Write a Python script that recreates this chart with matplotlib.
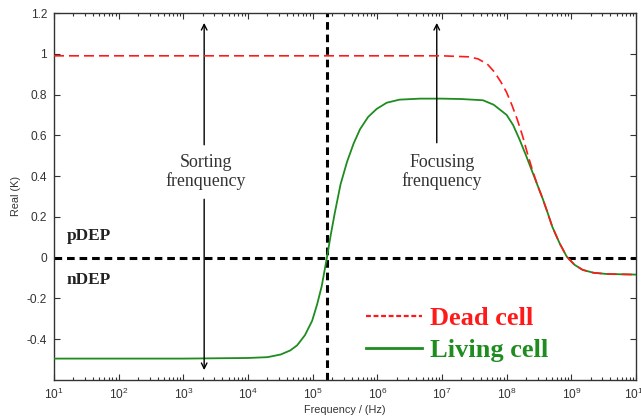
import matplotlib
matplotlib.use('Agg')
import matplotlib.pyplot as plt
import matplotlib.ticker as ticker
from matplotlib.lines import Line2D

# -----------------------------------------------------------------------
# data (frequency in Hz, Real(K))
# -----------------------------------------------------------------------
living_freq = [1e1, 1e3, 1e4, 2e4, 3.2e4, 4.5e4, 5.75e4, 7.6e4, 9.8e4, 1.17e5,
               1.38e5, 1.66e5, 1.9e5, 2.2e5, 2.7e5, 3.4e5, 4.3e5, 5.4e5, 7.2e5,
               9.8e5, 1.4e6, 2.2e6, 4.6e6, 1e7, 2e7, 4.3e7, 6.3e7, 1e8, 1.26e8,
               1.58e8, 2e8, 2.5e8, 3e8, 3.6e8, 4.3e8, 5.1e8, 6.6e8, 8.5e8, 1.12e9,
               1.5e9, 2.2e9, 3.5e9, 1e10]
living_k = [-0.495, -0.495, -0.492, -0.488, -0.475, -0.455, -0.43, -0.38, -0.31, -0.23,
            -0.14, 0.0, 0.11, 0.22, 0.36, 0.47, 0.56, 0.63, 0.69,
            0.73, 0.76, 0.775, 0.78, 0.78, 0.778, 0.772, 0.75, 0.70, 0.65,
            0.58, 0.50, 0.42, 0.355, 0.29, 0.22, 0.15, 0.07, 0.005, -0.035,
            -0.06, -0.074, -0.08, -0.083]

dead_freq = [1e1, 1e7, 2.6e7, 3.6e7, 5e7, 6.5e7, 8.2e7, 1e8, 1.2e8, 1.45e8,
             1.75e8, 2.1e8, 2.5e8, 3e8, 3.6e8, 4.3e8, 5.1e8, 6.6e8, 8.5e8,
             1.12e9, 1.5e9, 2.2e9, 3.5e9, 1e10]
dead_k = [0.99, 0.99, 0.985, 0.975, 0.95, 0.91, 0.86, 0.81, 0.75, 0.68,
          0.60, 0.51, 0.43, 0.355, 0.29, 0.22, 0.15, 0.07, 0.005,
          -0.035, -0.06, -0.074, -0.08, -0.083]

crossover_freq = 1.66e5
sorting_freq = 2.1e3
focusing_freq = 8.3e6

x_ticks = [1e1, 1e2, 1e3, 1e4, 1e5, 1e6, 1e7, 1e8, 1e9, 1e10]
y_ticks = [-0.4, -0.2, 0, 0.2, 0.4, 0.6, 0.8, 1, 1.2]
y_tick_labels = ['-0.4', '-0.2', '0', '0.2', '0.4', '0.6', '0.8', '1', '1.2']

RED = '#FF1A1A'
GREEN = '#1E8C1E'
AXIS_COLOR = '#333333'

plt.rcParams['font.family'] = 'Liberation Sans'

fig = plt.figure(figsize=(6.41, 4.20), dpi=100)
ax = fig.add_axes([54 / 641, 40 / 420, 582 / 641, 367 / 420])

ax.set_xscale('log')
ax.set_xlim(1e1, 1e10)
ax.set_ylim(-0.6, 1.2)

# reference lines
ax.axhline(0, color='black', lw=2.2, dashes=(2.5, 1.6), zorder=2)
ax.axvline(crossover_freq, color='black', lw=2.2, dashes=(2.5, 1.6), zorder=2)

ax.plot(living_freq, living_k, color=GREEN, lw=1.3, zorder=3)
ax.plot(dead_freq, dead_k, color=RED, lw=1.2, dashes=(6, 3), zorder=4)

# arrows + annotations
arrow_kw = dict(arrowstyle='->', color='black', lw=1.0, mutation_scale=10)
ax.annotate('', xy=(sorting_freq, 1.165), xytext=(sorting_freq, 0.54), arrowprops=arrow_kw)
ax.annotate('', xy=(sorting_freq, -0.565), xytext=(sorting_freq, 0.30), arrowprops=arrow_kw)
ax.annotate('', xy=(focusing_freq, 1.165), xytext=(focusing_freq, 0.55), arrowprops=arrow_kw)

ann_font = dict(family='Liberation Serif', fontsize=12.9, color='#333333',
                ha='center', va='center', linespacing=1.05)
ax.text(2.25e3, 0.42, 'Sorting\nfrenquency', **ann_font)
ax.text(1.0e7, 0.42, 'Focusing\nfrenquency', **ann_font)

dep_font = dict(family='Liberation Serif', fontsize=12.4, fontweight='bold',
                color='#222222', ha='left', va='center')
ax.text(1.55e1, 0.104, 'pDEP', **dep_font)
ax.text(1.55e1, -0.11, 'nDEP', **dep_font)

# legend
handles = [Line2D([], [], color=RED, lw=1.6, dashes=(2.2, 1.2)),
           Line2D([], [], color=GREEN, lw=2.0)]
ax.legend(handles, ['Dead cell', 'Living cell'], loc='lower left',
          bbox_to_anchor=(0.496, -0.016), frameon=False, labelcolor=[RED, GREEN],
          prop=dict(family='Liberation Serif', size=19, weight='bold'),
          handlelength=2.1, handletextpad=0.3, labelspacing=0.31)

# axes styling, MATLAB-like box with inward ticks
ax.xaxis.set_major_locator(ticker.FixedLocator(x_ticks))
ax.xaxis.set_major_formatter(ticker.LogFormatterSciNotation())
ax.xaxis.set_minor_locator(ticker.LogLocator(base=10, subs=range(2, 10), numticks=100))
ax.xaxis.set_minor_formatter(ticker.NullFormatter())
ax.set_yticks(y_ticks)
ax.set_yticklabels(y_tick_labels)
ax.tick_params(which='both', direction='in', top=True, right=True,
               colors=AXIS_COLOR, labelsize=8.6, pad=5)
ax.tick_params(which='major', length=4, width=0.8)
ax.tick_params(which='minor', length=2.5, width=0.8)
for spine in ax.spines.values():
    spine.set_color(AXIS_COLOR)
    spine.set_linewidth(1.0)

ax.set_xlabel('Frequency / (Hz)', fontsize=7.8, color=AXIS_COLOR, labelpad=2)
ax.set_ylabel('Real (K)', fontsize=7.8, color=AXIS_COLOR, labelpad=4)

fig.savefig('out.png', dpi=100)
